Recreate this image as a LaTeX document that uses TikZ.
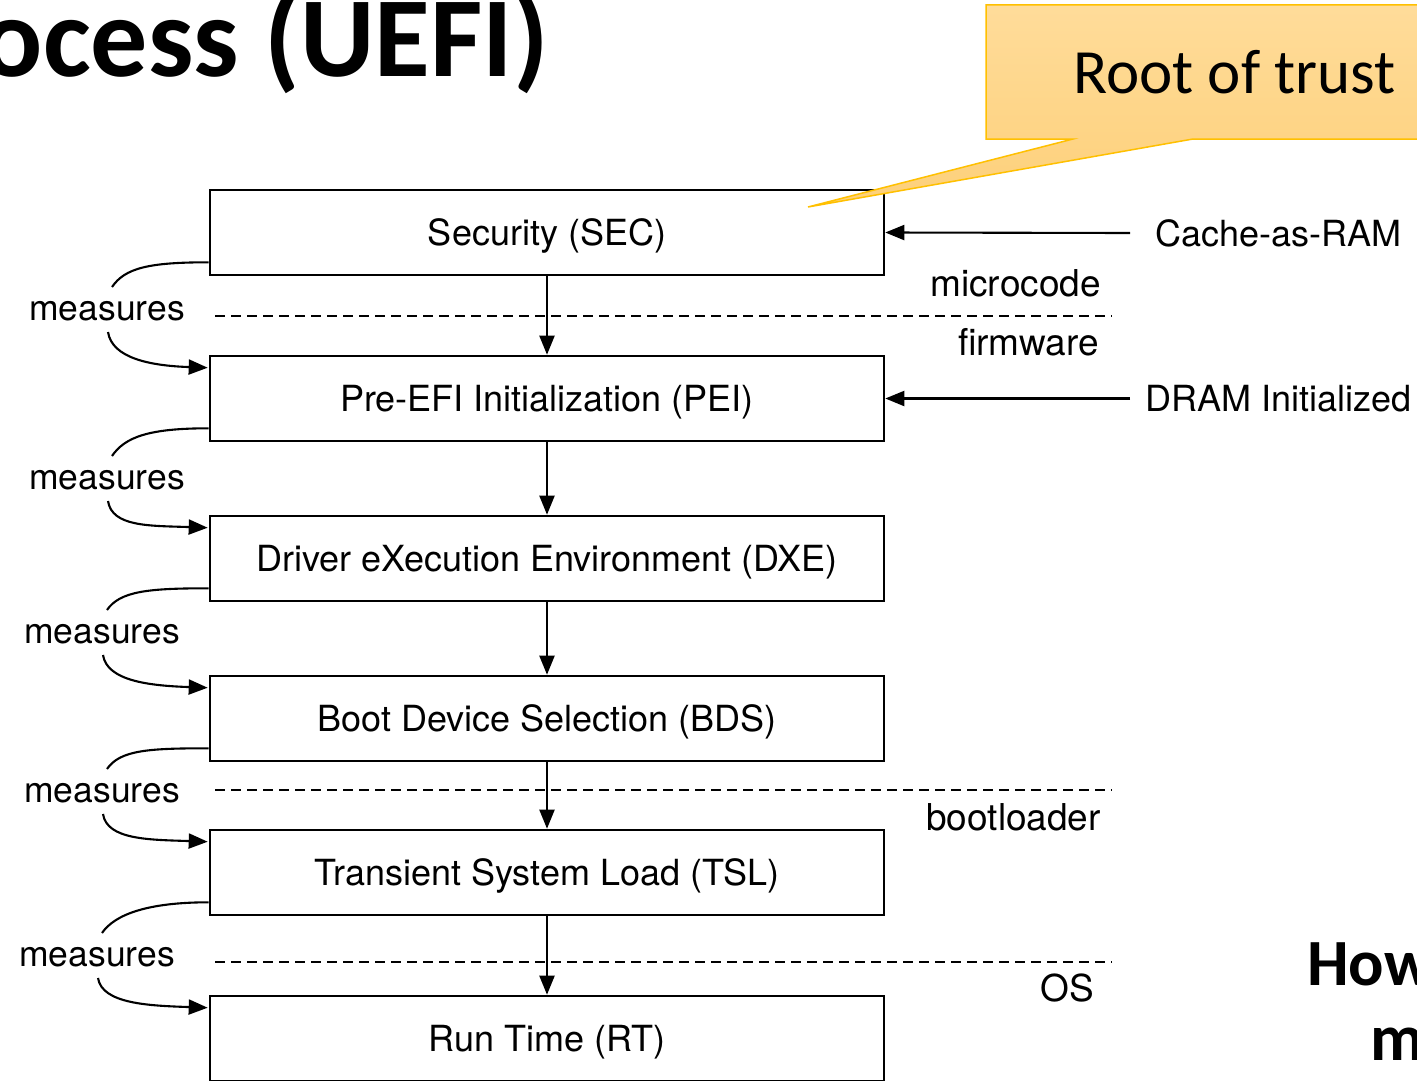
\documentclass[tikz,border=0pt]{standalone}
\usepackage{fontspec}
\setmainfont{TeX Gyre Heros}
\newfontfamily\calibri{Carlito}
\usetikzlibrary{arrows.meta,calc}

\definecolor{calloutTop}{HTML}{FFDC9A}
\definecolor{calloutBottom}{HTML}{FDD07A}
\definecolor{calloutEdge}{HTML}{FFC000}

\tikzset{
  stage/.style={draw, line width=2.6pt, minimum width=674pt, minimum height=85pt,
    inner sep=0pt, text height=26pt, text depth=0pt, font=\fontsize{36}{40}\selectfont},
  lbl/.style={inner sep=0pt, font=\fontsize{35.5}{40}\selectfont},
  layer/.style={inner sep=0pt, anchor=base east, font=\fontsize{37}{40}\selectfont},
  arr/.style={line width=2.1pt, -{Triangle[length=19pt,width=15pt]}},
  curve/.style={line width=2.1pt},
  divider/.style={line width=2.4pt, dash pattern=on 10pt off 6pt},
}

\begin{document}
\begin{tikzpicture}[x=1pt,y=-1pt]
\useasboundingbox (0,0) rectangle (1417,1081);
\clip (0,0) rectangle (1417,1081);
\fill[white] (0,0) rectangle (1417,1081);

% title, cut by the page edge
\node[inner sep=0pt, anchor=base east, font=\calibri\bfseries\fontsize{114}{120}\selectfont]
  (title) at (549,77) {ocess (UEFI)};

% boot stages
\node[stage] (sec) at (547,232.5) {Security (SEC)};
\node[stage] (pei) at (547,398.5) {Pre-EFI Initialization (PEI)};
\node[stage] (dxe) at (547,558.5) {Driver eXecution Environment (DXE)};
\node[stage] (bds) at (547,718.5) {Boot Device Selection (BDS)};
\node[stage] (tsl) at (547,872.5) {Transient System Load (TSL)};
\node[stage] (rt)  at (547,1038.5) {Run Time (RT)};

% layer boundaries
\draw[divider] (215,316) -- (1112,316);
\draw[divider] (215,790) -- (1112,790);
\draw[divider] (215,962) -- (1112,962);

\node[layer] (mc) at (1101,296) {microcode};
\node[layer] (fw) at (1099,355) {firmware};
\node[layer] (bl) at (1101,830) {bootloader};
\node[layer] (os) at (1094,1001) {OS};

% stage-to-stage flow
\draw[arr] (sec.south) -- (pei.north);
\draw[arr] (pei.south) -- (dxe.north);
\draw[arr] (dxe.south) -- (bds.north);
\draw[arr] (bds.south) -- (tsl.north);
\draw[arr] (tsl.south) -- (rt.north);

% hardware events on the right
\node[lbl, anchor=base west, font=\fontsize{36}{40}\selectfont] (car) at (1155,246) {Cache-as-RAM};
\node[lbl, anchor=base west, font=\fontsize{36}{40}\selectfont] (dram) at (1145,411) {DRAM Initialized};
\coordinate (carstart) at (1130,233);
\coordinate (dramstart) at (1130,398.5);
\draw[arr] (carstart) -- (sec.east);
\draw[arr] (dramstart) -- (pei.east);

% measurement arcs on the left
\node[lbl] (m1) at (107,311) {measures};
\node[lbl] (m2) at (107,480) {measures};
\node[lbl] (m3) at (102,634) {measures};
\node[lbl] (m4) at (102,793) {measures};
\node[lbl] (m5) at (97,957) {measures};

\foreach \a/\m/\b in {sec/m1/pei, pei/m2/dxe, dxe/m3/bds, bds/m4/tsl, tsl/m5/rt}{
  \draw[curve] ([yshift=14pt]\a.south west) .. controls +(-60,0) and +(13,-19) .. ($(\m.center)+(5,-24)$);
  \draw[arr] ($(\m.center)+(1,21)$) .. controls +(4,26) and +(-58,-2) .. ([yshift=-13pt,xshift=-1pt]\b.north west);
}

% callout
\shadedraw[top color=calloutTop, bottom color=calloutBottom, draw=calloutEdge, line width=1.5pt]
  (986,5) -- (1430,5) -- (1430,139) -- (1193,139) -- (808,207) -- (1073,139) -- (986,139) -- cycle;
\node[inner sep=0pt, anchor=base west, font=\calibri\fontsize{63}{70}\selectfont]
  (rot) at (1073,93) {Root of trust};

% slide text cut by the page edge
\node[inner sep=0pt, anchor=base west, font=\calibri\bfseries\fontsize{66}{70}\selectfont]
  (how) at (1307,985) {How};
\node[inner sep=0pt, anchor=base west, font=\calibri\bfseries\fontsize{66}{70}\selectfont]
  (mm) at (1370,1060) {m};
\end{tikzpicture}
\end{document}
